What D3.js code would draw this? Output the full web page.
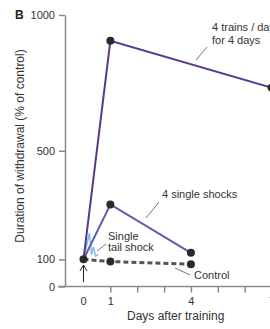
<!DOCTYPE html>
<html><head><meta charset="utf-8">
<script src="https://cdn.jsdelivr.net/npm/d3@7/dist/d3.min.js"></script>
<style>body{margin:0;background:#fff;} svg{display:block;font-family:"Liberation Sans",Arial,sans-serif;}</style>
</head><body>
<svg id="c" width="270" height="329"></svg>
<script>
// Data
const yTicks = [0, 100, 500, 1000];
const xTickDays = [1, 2, 3, 4, 5, 6, 7];
const xLabelDays = [0, 1, 4, 7];
const trainsDays = [0, 1, 7];
const trainsVals = [100, 905, 732];
const singleShocksDays = [0, 1, 4];
const singleShocksVals = [100, 302, 124];
const controlDays = [0, 1, 4];
const controlVals = [100, 92, 82];
const tailShockDays = [0, 0.22, 0.3, 0.37, 0.45, 0.55];
const tailShockVals = [100, 196, 118, 145, 112, 118];

const svg = d3.select("#c");
const x = d3.scaleLinear().domain([0, 7]).range([83.5, 271.5]);
const y = d3.scaleLinear().domain([0, 1000]).range([286.5, 15]);
const axisColor = "#8a8a8a";

// Y axis
const yAxis = svg.append("g").attr("transform", "translate(65,0)")
  .call(d3.axisLeft(y).tickValues(yTicks).tickFormat(d3.format("d")).tickSize(6).tickPadding(4).tickSizeOuter(0));
yAxis.select(".domain").attr("stroke", axisColor).attr("stroke-width", 1.5);
yAxis.selectAll(".tick line").attr("stroke", axisColor).attr("stroke-width", 1.5);
yAxis.selectAll(".tick text").attr("font-size", 11).attr("fill", "#333").style("font-family", "Liberation Sans, Arial, sans-serif");

// X axis
const xAxis = svg.append("g").attr("transform", `translate(0,${y(0)})`)
  .call(d3.axisBottom(x).tickValues(xTickDays).tickSize(6).tickFormat(d => xLabelDays.includes(d) ? d : "").tickPadding(5));
xAxis.select(".domain").remove();
xAxis.selectAll(".tick line").attr("stroke", axisColor).attr("stroke-width", 1.5);
xAxis.selectAll(".tick text").attr("font-size", 11).attr("fill", "#333").style("font-family", "Liberation Sans, Arial, sans-serif");
svg.append("line").attr("x1", 58).attr("x2", 270).attr("y1", y(0)).attr("y2", y(0))
  .attr("stroke", axisColor).attr("stroke-width", 1.5);
svg.append("text").attr("x", x(0)).attr("y", 305).attr("text-anchor", "middle")
  .attr("font-size", 11).attr("fill", "#333").text("0");

// Axis titles
svg.append("text").attr("x", 127).attr("y", 320).attr("font-size", 12).attr("fill", "#333").text("Days after training");
svg.append("text").attr("transform", "translate(24,146) rotate(-90)").attr("text-anchor", "middle")
  .attr("font-size", 12).attr("fill", "#333").text("Duration of withdrawal (% of control)");
svg.append("text").attr("x", 15).attr("y", 19).attr("font-size", 12).attr("font-weight", "bold").attr("fill", "#222").text("B");

const line = d3.line().x(d => x(d[0])).y(d => y(d[1]));
const zip = (a, b) => a.map((d, i) => [d, b[i]]);

// Single tail shock (light blue)
svg.append("path").datum(zip(tailShockDays, tailShockVals)).attr("d", line)
  .attr("fill", "none").attr("stroke", "#7cc0ea").attr("stroke-width", 1.5);

// Control dashed
svg.append("path").datum(zip(controlDays, controlVals)).attr("d", line)
  .attr("fill", "none").attr("stroke", "#555").attr("stroke-width", 3).attr("stroke-dasharray", "5,3");

// 4 single shocks
svg.append("path").datum(zip(singleShocksDays, singleShocksVals)).attr("d", line)
  .attr("fill", "none").attr("stroke", "#5d5cb0").attr("stroke-width", 2);

// 4 trains
svg.append("path").datum(zip(trainsDays, trainsVals)).attr("d", line)
  .attr("fill", "none").attr("stroke", "#5a3a8c").attr("stroke-width", 2);

// Dots
const dots = [].concat(zip(trainsDays, trainsVals), zip(singleShocksDays, singleShocksVals).slice(1), zip(controlDays, controlVals).slice(1));
svg.selectAll("circle.d").data(dots).enter().append("circle")
  .attr("cx", d => x(d[0])).attr("cy", d => y(d[1])).attr("r", 4).attr("fill", "#2a2a2a");

// Arrow at day 0
svg.append("line").attr("x1", x(0)).attr("x2", x(0)).attr("y1", 282).attr("y2", 266).attr("stroke", "#222").attr("stroke-width", 1);
svg.append("path").attr("d", `M${x(0)-3.5},${271} L${x(0)},${265} L${x(0)+3.5},${271}`).attr("fill", "none").attr("stroke", "#222").attr("stroke-width", 1);

// Annotations
const ann = svg.append("g").attr("font-size", 11).attr("fill", "#333");
ann.append("text").attr("x", 212).attr("y", 31).text("4 trains / day");
ann.append("text").attr("x", 212).attr("y", 44).text("for 4 days");
ann.append("text").attr("x", 162).attr("y", 198).text("4 single shocks");
ann.append("text").attr("x", 108).attr("y", 240).text("Single");
ann.append("text").attr("x", 108).attr("y", 251).text("tail shock");
ann.append("text").attr("x", 194).attr("y", 279).text("Control");
const leaders = [[207, 47, 196, 60], [159, 202, 146, 218], [106, 244, 97, 251], [175, 268, 190, 275]];
svg.selectAll("line.l").data(leaders).enter().append("line")
  .attr("x1", d => d[0]).attr("y1", d => d[1]).attr("x2", d => d[2]).attr("y2", d => d[3])
  .attr("stroke", "#555").attr("stroke-width", 0.8);
</script>
</body></html>
